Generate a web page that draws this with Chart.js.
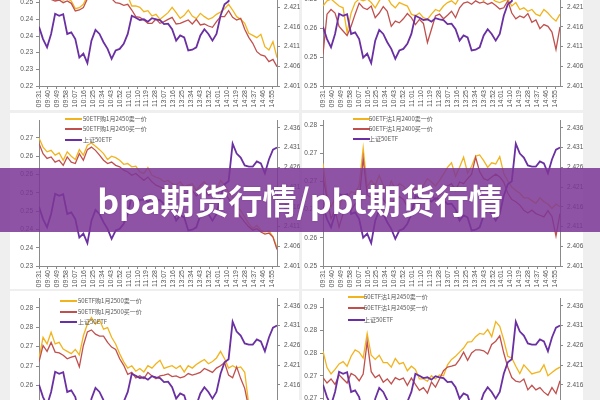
<!DOCTYPE html>
<html><head><meta charset="utf-8">
<script src="https://cdn.jsdelivr.net/npm/chart.js@4.4.1/dist/chart.umd.min.js"></script>
<style>
html,body{margin:0;padding:0;width:600px;height:400px;overflow:hidden;background:#efefef;}
.panel{position:absolute;background:#fff;}
canvas{position:absolute;}
.lg{position:absolute;font-family:"Noto Sans CJK SC","Liberation Sans",sans-serif;font-size:6px;color:#555;}
.lg .row{position:absolute;left:0;white-space:nowrap;height:8px;line-height:8px;}
.lg .sw{position:absolute;left:0;top:3px;width:17px;height:2px;}
.lg .tx{position:absolute;top:0;}
#banner{position:absolute;left:0;top:168px;width:600px;height:64px;background:rgba(125,55,150,0.86);color:#fff;font-family:"Noto Sans CJK SC",sans-serif;font-weight:700;font-size:34px;line-height:64px;text-align:center;z-index:10;text-shadow:0 0 2px rgba(60,0,80,0.3);}
</style></head>
<body>
<div class="panel" style="left:10px;top:-70px;width:289px;height:180px"></div>
<div class="panel" style="left:302px;top:-70px;width:281px;height:180px"></div>
<div class="panel" style="left:10px;top:113px;width:289px;height:176px"></div>
<div class="panel" style="left:302px;top:113px;width:281px;height:176px"></div>
<div class="panel" style="left:10px;top:291px;width:289px;height:120px"></div>
<div class="panel" style="left:302px;top:291px;width:281px;height:120px"></div>
<canvas id="tl" width="300" height="177" style="left:0;top:-68px"></canvas>
<canvas id="tr" width="300" height="177" style="left:300px;top:-68px"></canvas>
<canvas id="ml" width="300" height="177" style="left:0;top:112px"></canvas>
<canvas id="mr" width="300" height="177" style="left:300px;top:112px"></canvas>
<canvas id="bl" width="300" height="177" style="left:0;top:290px"></canvas>
<canvas id="br" width="300" height="177" style="left:300px;top:290px"></canvas>
<div id="legends"></div>
<div id="banner">bpa期货行情/pbt期货行情</div>
<script>
// ---------- data ----------
const TIME_LABELS = ['09:31','09:40','09:49','09:58','10:07','10:16','10:25','10:34','10:43','10:52','11:01','11:10','11:19','11:28','13:07','13:16','13:25','13:34','13:43','13:52','14:01','14:10','14:19','14:28','14:37','14:46','14:55'];
const RIGHT_TICK_LABELS = ['2.401','2.406','2.411','2.416','2.421','2.426','2.431','2.436'];

const SH50ETF = [2.4160,2.4129,2.4108,2.4142,2.4193,2.4188,2.4192,2.4142,2.4146,2.4129,
2.4082,2.4092,2.4068,2.4125,2.4152,2.4142,2.4121,2.4104,2.4079,2.4100,
2.4104,2.4117,2.4142,2.4188,2.4183,2.4177,2.4179,2.4173,2.4182,2.4179,
2.4177,2.4167,2.4168,2.4154,2.4125,2.4138,2.4133,2.4100,2.4102,2.4108,
2.4138,2.4154,2.4142,2.4125,2.4142,2.4188,2.4217,2.4225,2.4320,2.4295,
2.4285,2.4265,2.4262,2.4262,2.4275,2.4270,2.4245,2.4280,2.4305,2.4310];

const TL_SELL = [0.2500,0.2510,0.2490,0.2475,0.2462,0.2465,0.2458,0.2462,0.2455,0.2432,
0.2435,0.2445,0.2470,0.2490,0.2510,0.2520,0.2510,0.2500,0.2490,0.2485,
0.2480,0.2475,0.2470,0.2440,0.2440,0.2436,0.2423,0.2426,0.2410,0.2415,
0.2400,0.2410,0.2420,0.2436,0.2420,0.2403,0.2412,0.2428,0.2410,0.2402,
0.2418,0.2408,0.2400,0.2405,0.2415,0.2422,0.2432,0.2445,0.2428,0.2408,
0.2400,0.2388,0.2358,0.2352,0.2345,0.2355,0.2318,0.2308,0.2333,0.2285];
const TL_BUY = [0.2480,0.2485,0.2465,0.2460,0.2455,0.2458,0.2450,0.2455,0.2448,0.2425,
0.2428,0.2435,0.2462,0.2480,0.2495,0.2505,0.2490,0.2478,0.2462,0.2450,
0.2448,0.2442,0.2445,0.2428,0.2408,0.2406,0.2398,0.2388,0.2388,0.2401,
0.2388,0.2393,0.2400,0.2406,0.2386,0.2388,0.2393,0.2398,0.2386,0.2400,
0.2383,0.2386,0.2380,0.2376,0.2393,0.2408,0.2408,0.2426,0.2406,0.2398,
0.2403,0.2370,0.2346,0.2328,0.2303,0.2293,0.2290,0.2273,0.2280,0.2258];

const TR_SELL = [0.2588,0.2597,0.2600,0.2594,0.2588,0.2585,0.2542,0.2576,0.2594,0.2600,
0.2597,0.2600,0.2594,0.2585,0.2597,0.2606,0.2603,0.2591,0.2585,0.2594,
0.2591,0.2588,0.2574,0.2571,0.2576,0.2568,0.2565,0.2574,0.2582,0.2579,
0.2588,0.2594,0.2597,0.2591,0.2603,0.2606,0.2605,0.2602,0.2610,0.2603,
0.2598,0.2606,0.2601,0.2596,0.2594,0.2597,0.2600,0.2588,0.2594,0.2582,
0.2585,0.2579,0.2582,0.2574,0.2571,0.2582,0.2576,0.2568,0.2562,0.2574];
const TR_BUY = [0.2505,0.2574,0.2582,0.2576,0.2553,0.2545,0.2537,0.2553,0.2574,0.2593,
0.2585,0.2582,0.2588,0.2568,0.2576,0.2587,0.2579,0.2553,0.2562,0.2559,
0.2566,0.2575,0.2568,0.2556,0.2565,0.2558,0.2525,0.2548,0.2571,0.2574,
0.2566,0.2572,0.2579,0.2568,0.2585,0.2593,0.2595,0.2591,0.2597,0.2593,
0.2595,0.2591,0.2594,0.2589,0.2583,0.2585,0.2597,0.2576,0.2566,0.2571,
0.2568,0.2575,0.2560,0.2564,0.2549,0.2556,0.2553,0.2543,0.2513,0.2552];

const ML_SELL = [0.2650,0.2625,0.2612,0.2616,0.2603,0.2609,0.2589,0.2612,0.2600,0.2591,
0.2618,0.2603,0.2630,0.2636,0.2627,0.2618,0.2607,0.2591,0.2600,0.2596,
0.2589,0.2578,0.2580,0.2571,0.2573,0.2557,0.2553,0.2569,0.2548,0.2543,
0.2539,0.2530,0.2534,0.2525,0.2521,0.2530,0.2516,0.2521,0.2525,0.2507,
0.2521,0.2530,0.2512,0.2518,0.2507,0.2534,0.2521,0.2502,0.2489,0.2461,
0.2452,0.2434,0.2416,0.2402,0.2411,0.2398,0.2393,0.2396,0.2380,0.2350];
const ML_BUY = [0.2635,0.2607,0.2594,0.2598,0.2584,0.2589,0.2575,0.2598,0.2584,0.2580,
0.2607,0.2589,0.2618,0.2625,0.2616,0.2603,0.2589,0.2580,0.2584,0.2575,
0.2571,0.2562,0.2557,0.2548,0.2553,0.2543,0.2534,0.2543,0.2530,0.2521,
0.2516,0.2511,0.2514,0.2507,0.2500,0.2507,0.2496,0.2502,0.2507,0.2491,
0.2500,0.2509,0.2493,0.2498,0.2487,0.2511,0.2502,0.2484,0.2470,0.2448,
0.2434,0.2420,0.2407,0.2398,0.2402,0.2393,0.2387,0.2390,0.2379,0.2345];

const MR_SELL = [0.2682,0.2626,0.2605,0.2620,0.2602,0.2626,0.2620,0.2632,0.2629,0.2643,
0.2709,0.2640,0.2652,0.2643,0.2661,0.2643,0.2630,0.2651,0.2636,0.2646,
0.2642,0.2632,0.2629,0.2639,0.2634,0.2643,0.2655,0.2649,0.2642,0.2652,
0.2663,0.2675,0.2683,0.2659,0.2675,0.2693,0.2665,0.2677,0.2695,0.2697,
0.2687,0.2675,0.2683,0.2681,0.2694,0.2664,0.2651,0.2640,0.2634,0.2629,
0.2621,0.2621,0.2616,0.2611,0.2621,0.2614,0.2610,0.2602,0.2610,0.2605];
const MR_BUY = [0.2658,0.2620,0.2584,0.2599,0.2569,0.2593,0.2602,0.2599,0.2610,0.2616,
0.2691,0.2626,0.2621,0.2618,0.2634,0.2618,0.2608,0.2612,0.2618,0.2623,
0.2618,0.2605,0.2599,0.2616,0.2611,0.2620,0.2624,0.2627,0.2617,0.2626,
0.2636,0.2642,0.2646,0.2634,0.2649,0.2646,0.2655,0.2663,0.2693,0.2667,
0.2655,0.2652,0.2658,0.2663,0.2658,0.2649,0.2629,0.2618,0.2614,0.2608,
0.2599,0.2594,0.2599,0.2593,0.2590,0.2587,0.2598,0.2588,0.2553,0.2593];

const BL_SELL = [0.2669,0.2724,0.2707,0.2737,0.2707,0.2711,0.2694,0.2688,0.2682,0.2693,
0.2679,0.2728,0.2758,0.2775,0.2758,0.2769,0.2745,0.2749,0.2724,0.2707,
0.2682,0.2661,0.2645,0.2651,0.2637,0.2644,0.2635,0.2651,0.2645,0.2656,
0.2665,0.2644,0.2648,0.2651,0.2644,0.2651,0.2635,0.2651,0.2645,0.2654,
0.2661,0.2667,0.2656,0.2662,0.2671,0.2688,0.2669,0.2645,0.2651,0.2645,
0.2648,0.2634,0.2551,0.2530,0.2525,0.2520,0.2515,0.2520,0.2510,0.2505];
const BL_BUY = [0.2661,0.2703,0.2688,0.2711,0.2686,0.2684,0.2678,0.2669,0.2673,0.2676,
0.2648,0.2703,0.2738,0.2743,0.2732,0.2727,0.2727,0.2711,0.2699,0.2693,
0.2669,0.2652,0.2629,0.2634,0.2620,0.2625,0.2618,0.2634,0.2625,0.2618,
0.2625,0.2627,0.2630,0.2623,0.2625,0.2620,0.2623,0.2631,0.2627,0.2630,
0.2634,0.2644,0.2639,0.2634,0.2645,0.2651,0.2659,0.2627,0.2620,0.2648,
0.2618,0.2593,0.2542,0.2525,0.2520,0.2515,0.2510,0.2512,0.2505,0.2500];

const BR_SELL = [0.2754,0.2718,0.2704,0.2714,0.2726,0.2731,0.2721,0.2743,0.2757,0.2752,
0.2739,0.2793,0.2745,0.2736,0.2745,0.2729,0.2729,0.2719,0.2738,0.2726,
0.2729,0.2711,0.2721,0.2714,0.2693,0.2693,0.2688,0.2700,0.2693,0.2702,
0.2700,0.2724,0.2736,0.2743,0.2752,0.2761,0.2774,0.2775,0.2786,0.2793,
0.2791,0.2802,0.2786,0.2819,0.2809,0.2779,0.2743,0.2739,0.2721,0.2705,
0.2724,0.2714,0.2704,0.2707,0.2709,0.2724,0.2700,0.2707,0.2714,0.2719];
const BR_BUY = [0.2696,0.2684,0.2693,0.2681,0.2702,0.2693,0.2684,0.2705,0.2700,0.2689,
0.2704,0.2775,0.2709,0.2696,0.2702,0.2686,0.2693,0.2682,0.2696,0.2691,
0.2695,0.2679,0.2695,0.2681,0.2668,0.2674,0.2662,0.2686,0.2675,0.2693,
0.2711,0.2719,0.2721,0.2724,0.2736,0.2752,0.2734,0.2750,0.2757,0.2757,
0.2755,0.2748,0.2769,0.2776,0.2788,0.2750,0.2719,0.2696,0.2688,0.2686,
0.2693,0.2669,0.2679,0.2669,0.2674,0.2664,0.2657,0.2674,0.2661,0.2689];

// left-axis tick labels (start at axis minimum, step 0.005)
const TL_LEFT_TICKS = ['0.22','0.23','0.23','0.24','0.24','0.25','0.25','0.26','0.26'];
const TR_LEFT_TICKS = ['0.25','0.25','0.26','0.26','0.27','0.27'];
const ML_LEFT_TICKS = ['0.23','0.24','0.24','0.25','0.25','0.26','0.26','0.27'];
const MR_LEFT_TICKS = ['0.25','0.26','0.26','0.27','0.27','0.28'];
const BL_LEFT_TICKS = ['0.25','0.25','0.26','0.26','0.27','0.27','0.28','0.28'];
const BR_LEFT_TICKS = ['0.26','0.26','0.27','0.27','0.28','0.28','0.29'];

const SERIES_NAMES = {
  tl:['50ETF购1月2400卖一价','50ETF购1月2400买一价'],
  tr:['50ETF沽1月2350卖一价','50ETF沽1月2350买一价'],
  ml:['50ETF购1月2450卖一价','50ETF购1月2450买一价'],
  mr:['50ETF沽1月2400卖一价','50ETF沽1月2400买一价'],
  bl:['50ETF购1月2500卖一价','50ETF购1月2500买一价'],
  br:['50ETF沽1月2450卖一价','50ETF沽1月2450买一价']
};
const ETF_NAME = '上证50ETF';

// ---------- rendering ----------
const COL_SELL = '#f2b41e', COL_BUY = '#c0504d', COL_ETF = '#6a2fa2';
const LEFT_STEP = 0.005, RIGHT_MIN = 2.401, RIGHT_MAX = 2.438;

const PANELS = [
  {id:'tl', sell:TL_SELL, buy:TL_BUY, lmin:0.22,  lmax:0.2638, lt:TL_LEFT_TICKS, lw:39, rw:23, legend:null},
  {id:'tr', sell:TR_SELL, buy:TR_BUY, lmin:0.245, lmax:0.2702, lt:TR_LEFT_TICKS, lw:23, rw:40, legend:null},
  {id:'ml', sell:ML_SELL, buy:ML_BUY, lmin:0.23,  lmax:0.2699, lt:ML_LEFT_TICKS, lw:39, rw:23, legend:{x:65, y:[119,129,140]}},
  {id:'mr', sell:MR_SELL, buy:MR_BUY, lmin:0.25,  lmax:0.2759, lt:MR_LEFT_TICKS, lw:23, rw:40, legend:{x:353, y:[119,129,139]}},
  {id:'bl', sell:BL_SELL, buy:BL_BUY, lmin:0.245, lmax:0.2825, lt:BL_LEFT_TICKS, lw:39, rw:23, legend:{x:60, y:[301,312,322]}},
  {id:'br', sell:BR_SELL, buy:BR_BUY, lmin:0.255, lmax:0.2871, lt:BR_LEFT_TICKS, lw:23, rw:40, legend:{x:348, y:[297,308,320]}}
];

const N = SH50ETF.length;
const toXY = arr => arr.map((v,i) => ({x: i*239/(N-1), y: v}));
const axisCol = '#8a8a8a', labCol = '#555';

PANELS.forEach(p => {
  const names = SERIES_NAMES[p.id];
  const datasets = [
    {label: ETF_NAME, data: toXY(SH50ETF), yAxisID:'y1', borderColor: COL_ETF, borderWidth:1.8},
    {label: names[1], data: toXY(p.buy), yAxisID:'y', borderColor: COL_BUY, borderWidth:1.3},
    {label: names[0], data: toXY(p.sell), yAxisID:'y', borderColor: COL_SELL, borderWidth:1.3}
  ];
  new Chart(document.getElementById(p.id), {
    type:'line',
    data:{datasets},
    options:{
      responsive:false, animation:false, devicePixelRatio:1,
      layout:{padding:{top:8,left:0,right:0,bottom:0}},
      elements:{point:{radius:0}, line:{tension:0}},
      plugins:{legend:{display:false}, tooltip:{enabled:false}},
      scales:{
        x:{type:'linear', min:0, max:239,
          afterBuildTicks: s => { s.ticks = TIME_LABELS.map((t,i)=>({value:i*9})); },
          afterFit: s => { s.height = 23; },
          ticks:{autoSkip:false, maxRotation:90, minRotation:90, padding:1, color:labCol,
            font:{family:'Liberation Sans', size:7},
            callback:(v,i)=>TIME_LABELS[i]},
          grid:{drawOnChartArea:false, drawTicks:true, tickLength:3, color:axisCol},
          border:{display:true, color:axisCol}},
        y:{type:'linear', position:'left', min:p.lmin, max:p.lmax,
          afterBuildTicks: s => { s.ticks = p.lt.map((t,i)=>({value:p.lmin + i*LEFT_STEP})); },
          afterFit: s => { s.width = p.lw; },
          ticks:{padding:3, color:labCol, font:{family:'Liberation Sans', size:6.5},
            callback:(v,i)=>p.lt[i]},
          grid:{drawOnChartArea:false, drawTicks:true, tickLength:3, color:axisCol},
          border:{display:true, color:axisCol}},
        y1:{type:'linear', position:'right', min:RIGHT_MIN, max:RIGHT_MAX,
          afterBuildTicks: s => { s.ticks = RIGHT_TICK_LABELS.map((t,i)=>({value:RIGHT_MIN + i*0.005})); },
          afterFit: s => { s.width = p.rw; },
          ticks:{padding:4, color:labCol, font:{family:'Liberation Sans', size:6.5},
            callback:(v,i)=>RIGHT_TICK_LABELS[i]},
          grid:{drawOnChartArea:false, drawTicks:true, tickLength:3, color:axisCol},
          border:{display:true, color:axisCol}}
      }
    }
  });
  if (p.legend) {
    const lg = document.createElement('div');
    lg.className = 'lg';
    lg.style.left = p.legend.x + 'px';
    lg.style.top = '0px';
    const items = [[names[0], COL_SELL],[names[1], COL_BUY],[ETF_NAME, COL_ETF]];
    items.forEach((it,i) => {
      const r = document.createElement('div');
      r.className = 'row';
      r.style.top = (p.legend.y[i] - 4) + 'px';
      r.innerHTML = '<span class="sw" style="background:'+it[1]+'"></span><span class="tx" style="left:'+(p.legend.x>300?16:18)+'px">'+it[0]+'</span>';
      lg.appendChild(r);
    });
    document.getElementById('legends').appendChild(lg);
  }
});
</script>
</body></html>
